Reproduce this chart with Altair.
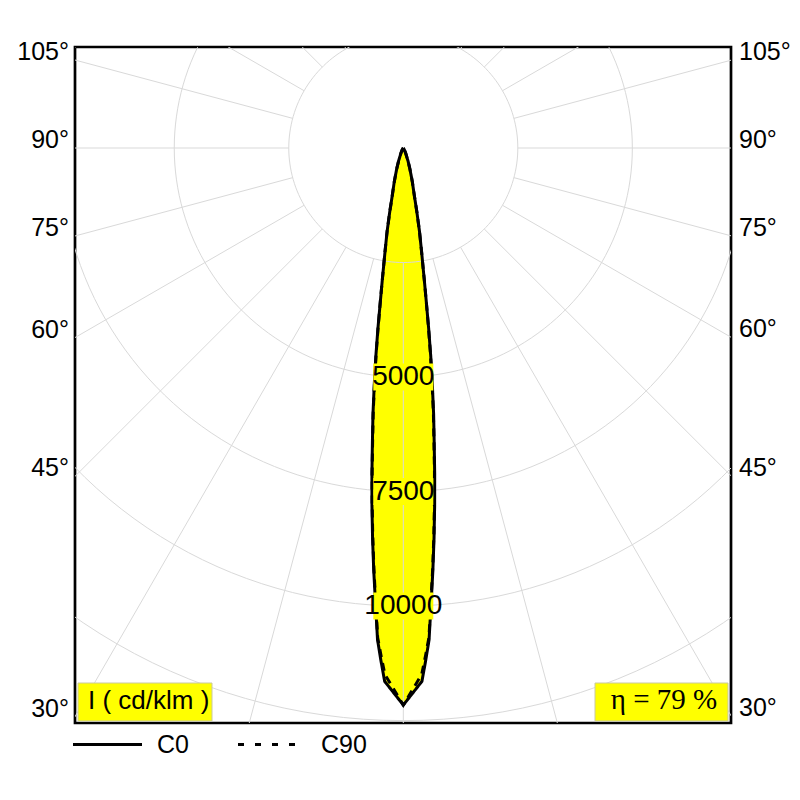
import pandas as pd
import altair as alt

# ---- data (cd/klm) ----
ANGLES = [0, 2, 2.5, 3, 3.5, 4, 4.5, 5, 5.5, 6, 6.5, 7, 7.5, 8, 8.5, 9, 10, 11, 12, 13, 15, 17.5, 20, 25, 30, 40, 50, 90]
C0 = [12160, 11650, 11200, 10750, 9950, 9250, 8550, 7850, 7150, 6450, 5850, 5200, 4600, 3980, 3400, 2950, 2300, 1850, 1420, 1080, 760, 480, 300, 120, 50, 10, 0, 0]
C90 = [12160, 11500, 11100, 10700, 9900, 9200, 8500, 7800, 7100, 6400, 5800, 5150, 4550, 3950, 3400, 2950, 2300, 1850, 1420, 1080, 760, 480, 300, 120, 50, 10, 0, 0]
SERIES = ["C0", "C90"]
RING_VALUES = [2500, 5000, 7500, 10000, 12500]
RING_LABELS = [5000, 7500, 10000]
SPOKE_ANGLES = list(range(0, 360, 15))
SIDE_LABEL_ANGLES = [105, 90, 75, 60, 45, 30]
UNIT_LABEL = "I ( cd/klm )"
ETA_LABEL = "η = 79 %"

X_DOMAIN = [-7167, 7154]
Y_DOMAIN = [-12552, 2205]
W, H = 656, 676

xs = alt.Scale(domain=X_DOMAIN, nice=False, zero=False)
ys = alt.Scale(domain=Y_DOMAIN, nice=False, zero=False)


def X(f):
    return alt.X(f"{f}:Q", scale=xs, axis=None)


def Y(f):
    return alt.Y(f"{f}:Q", scale=ys, axis=None)


GRID = "#d9d9d9"
YELLOW = "#ffff00"
SANS = "Liberation Sans"

# curves (full symmetric path)
rows = []
for name, vals in zip(SERIES, (C0, C90)):
    seq = [(-a, v) for a, v in zip(ANGLES[::-1], vals[::-1])] + [(a, v) for a, v in zip(ANGLES[1:], vals[1:])]
    for i, (a, v) in enumerate(seq):
        rows.append({"series": name, "idx": i, "angle": a, "value": v})
curves = pd.DataFrame(rows)

fill_df = pd.DataFrame({"angle": ANGLES, "value": C0})

ring_rows = []
for r in RING_VALUES:
    for t in range(0, 362, 2):
        ring_rows.append({"ring": r, "t": t})
rings_df = pd.DataFrame(ring_rows)

spoke_rows = []
for a in SPOKE_ANGLES:
    for r in (2500, 20000):
        spoke_rows.append({"spoke": a, "r": r})
spokes_df = pd.DataFrame(spoke_rows)

labels_df = pd.DataFrame({"value": RING_LABELS, "label": [str(v) for v in RING_LABELS]})
side_df = pd.DataFrame({"angle": SIDE_LABEL_ANGLES, "label": [f"{a}°" for a in SIDE_LABEL_ANGLES]})
one = pd.DataFrame({"k": [0]})

fill = alt.Chart(fill_df).transform_calculate(
    xr="datum.value*sin(datum.angle*PI/180)",
    xl="-datum.value*sin(datum.angle*PI/180)",
    y="-datum.value*cos(datum.angle*PI/180)",
).mark_area(orient="horizontal", color=YELLOW, opacity=1).encode(
    y=Y("y"), x=X("xl"), x2=alt.X2("xr:Q")
)

rings = alt.Chart(rings_df).transform_calculate(
    x="datum.ring*sin(datum.t*PI/180)",
    y="-datum.ring*cos(datum.t*PI/180)",
).mark_line(color=GRID, strokeWidth=1, clip=True).encode(
    x=X("x"), y=Y("y"), detail="ring:N", order="t:Q"
)

spokes = alt.Chart(spokes_df).transform_calculate(
    x="datum.r*sin(datum.spoke*PI/180)",
    y="-datum.r*cos(datum.spoke*PI/180)",
).mark_line(color=GRID, strokeWidth=1, clip=True).encode(
    x=X("x"), y=Y("y"), detail="spoke:N", order="r:Q"
)

lines = alt.Chart(curves).transform_calculate(
    x="datum.value*sin(datum.angle*PI/180)",
    y="-datum.value*cos(datum.angle*PI/180)",
).mark_line(color="black", strokeWidth=3).encode(
    x=X("x"), y=Y("y"), order="idx:Q",
    strokeDash=alt.StrokeDash("series:N", scale=alt.Scale(domain=SERIES, range=[[1, 0], [8, 6]]), legend=None),
)

box_shape = "M-1,-0.45L1,-0.45L1,0.45L-1,0.45Z"
ring_boxes = alt.Chart(labels_df).transform_calculate(
    x="0", y="-datum.value"
).mark_point(shape=box_shape, size=3600, filled=True, color=YELLOW, opacity=1, strokeWidth=0).encode(
    x=X("x"), y=Y("y")
)
ring_text = alt.Chart(labels_df).transform_calculate(
    x="0", y="-datum.value"
).mark_text(font=SANS, fontSize=28, color="black", align="center", baseline="middle").encode(
    x=X("x"), y=Y("y"), text="label:N"
)

side_left = alt.Chart(side_df).transform_calculate(
    xe=f"{X_DOMAIN[0]}",
    ye=f"{X_DOMAIN[0]}*cos(datum.angle*PI/180)/sin(datum.angle*PI/180)",
).mark_text(font=SANS, fontSize=25, color="black", align="right", baseline="alphabetic", dx=-6).encode(
    x=X("xe"), y=Y("ye"), text="label:N"
)
side_right = alt.Chart(side_df).transform_calculate(
    xe=f"{X_DOMAIN[1]}",
    ye=f"-{X_DOMAIN[1]}*cos(datum.angle*PI/180)/sin(datum.angle*PI/180)",
).mark_text(font=SANS, fontSize=25, color="black", align="left", baseline="alphabetic", dx=8).encode(
    x=X("xe"), y=Y("ye"), text="label:N"
)

unit_box = alt.Chart(one).mark_rect(color=YELLOW, stroke="#c9c9a0", strokeWidth=1).encode(
    x=alt.value(3), x2=alt.value(137), y=alt.value(636), y2=alt.value(674)
)
unit_text = alt.Chart(one).mark_text(font=SANS, fontSize=26, align="left", baseline="alphabetic", color="black").encode(
    x=alt.value(13), y=alt.value(662), text=alt.value(UNIT_LABEL)
)
eta_box = alt.Chart(one).mark_rect(color=YELLOW, stroke="#c9c9a0", strokeWidth=1).encode(
    x=alt.value(520), x2=alt.value(653), y=alt.value(636), y2=alt.value(674)
)
eta_text = alt.Chart(one).mark_text(font="Liberation Serif", fontSize=29, align="center", baseline="alphabetic", color="black").encode(
    x=alt.value(589), y=alt.value(662), text=alt.value(ETA_LABEL)
)

leg_solid = alt.Chart(one).mark_rule(color="black", strokeWidth=3).encode(
    x=alt.value(-2), x2=alt.value(67), y=alt.value(697.5)
)
leg_dash = alt.Chart(one).mark_rule(color="black", strokeWidth=3, strokeDash=[6, 11]).encode(
    x=alt.value(163), x2=alt.value(221), y=alt.value(697.5)
)
leg_c0 = alt.Chart(one).mark_text(font=SANS, fontSize=25, align="left", baseline="alphabetic", color="black").encode(
    x=alt.value(82), y=alt.value(706), text=alt.value(SERIES[0])
)
leg_c90 = alt.Chart(one).mark_text(font=SANS, fontSize=25, align="left", baseline="alphabetic", color="black").encode(
    x=alt.value(246), y=alt.value(706), text=alt.value(SERIES[1])
)

chart = alt.layer(
    fill, rings, spokes, lines, ring_boxes, ring_text, side_left, side_right,
    unit_box, unit_text, eta_box, eta_text, leg_solid, leg_dash, leg_c0, leg_c90,
).properties(
    width=W, height=H,
    autosize=alt.AutoSizeParams(type="none"),
    padding={"left": 67, "top": 39, "right": 61, "bottom": 69},
    background="white",
).configure_view(stroke="black", strokeWidth=2.7)

chart.save("out.html", embed_options={"renderer": "svg", "actions": False})
